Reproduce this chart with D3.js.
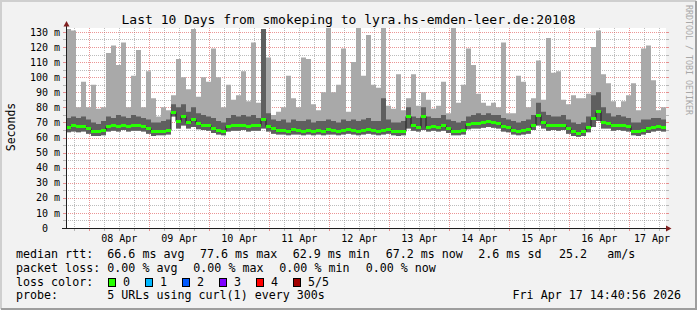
<!DOCTYPE html>
<html>
<head>
<meta charset="utf-8">
<script src="https://cdn.jsdelivr.net/npm/d3@7"></script>
<style>
  html, body { margin: 0; padding: 0; background: #fff; }
  svg text { font-family: "DejaVu Sans Mono", monospace; white-space: pre; }
</style>
</head>
<body>
<svg id="chart" width="697" height="310"></svg>
<script>
// time span of the graph, UTC so the local zone of the browser does not matter
var startTime = Date.UTC(2026, 3, 7, 14, 40, 56);
var endTime = Date.UTC(2026, 3, 17, 14, 40, 56);
var binMs = 2 * 3600 * 1000;   // one value per 2 hours

// median rtt per bin (ms)
var medianRtt = [
  67, 68.3, 67.5, 67.5, 66, 64, 64, 65, 67.5, 68,
  67.5, 68.5, 67.5, 68, 68, 67.5, 66, 64, 64.5, 64.5,
  65, 77, 71, 74, 70, 72.5, 69.5, 68.5, 68, 66.5,
  65, 64.5, 67.5, 68, 68, 68.5, 67.5, 68, 68, 72,
  67.5, 66, 65, 65, 64.5, 65.5, 65, 64.5, 65, 64.5,
  65, 64.5, 65.5, 65, 64.5, 65, 65.5, 65, 64.5, 65,
  65.5, 65, 64.5, 65, 65.5, 64.5, 64, 64.5, 74, 68,
  67, 74.5, 67, 67.5, 67, 68, 66, 64.5, 64.5, 65,
  69, 69.5, 69.5, 70, 71, 70, 69.5, 67.5, 67, 65,
  64.5, 65, 65.5, 68.5, 75, 70, 68, 68.5, 68, 68.5,
  66, 64, 63, 64, 67, 73, 77.5, 70.5, 69.5, 68,
  68.5, 68, 67.5, 64.5, 64, 65, 66, 67, 67.5, 67
];

// inner smoke (2nd / 4th ping) top
var smokeHigh = [
  73, 74, 73, 74, 72, 70, 69, 71, 74, 73,
  75, 74, 73, 75, 74, 73, 72, 70, 70, 71,
  72, 82, 80, 82, 77, 80, 76, 75, 74, 73,
  71, 70, 73, 75, 74, 75, 74, 75, 73, 132,
  76, 72, 71, 72, 70, 72, 71, 71, 72, 70,
  71, 71, 72, 71, 70, 72, 71, 72, 71, 72,
  73, 71, 71, 86, 72, 70, 70, 71, 80, 74,
  73, 80, 74, 73, 73, 75, 72, 71, 70, 71,
  74, 75, 76, 75, 76, 75, 75, 73, 72, 71,
  70, 71, 72, 75, 83, 77, 75, 74, 74, 75,
  72, 70, 69, 70, 74, 88, 90, 80, 76, 74,
  75, 74, 73, 70, 70, 72, 72, 73, 73, 72
];

// lowest ping
var smokeLow = [
  63.5, 64, 63.5, 64, 62.5, 61, 61, 61.5, 64, 64.5,
  64, 65, 64, 64.5, 64.5, 64, 62.5, 61, 61.5, 61.5,
  62, 74, 66, 68, 66, 67, 65.5, 65, 64.5, 63,
  62, 61.5, 64, 64.5, 64.5, 65, 64, 64.5, 64.5, 66,
  64, 62.5, 62, 62, 61.5, 62, 62, 61.5, 62, 61.5,
  62, 61.5, 62, 62, 61.5, 62, 62.5, 62, 61.5, 62,
  62.5, 62, 61.5, 62, 62.5, 61.5, 61, 61.5, 66, 64.5,
  64, 65, 64, 64.5, 64, 64.5, 63, 61.5, 61.5, 62,
  65.5, 66, 66, 66.5, 67, 66.5, 66, 64, 63.5, 62,
  61.5, 62, 62.5, 65, 68, 66, 64.5, 65, 64.5, 65,
  62.5, 61, 60.5, 61, 63.5, 67, 71, 66, 66, 64.5,
  65, 64.5, 64, 61.5, 61, 62, 63, 64, 64.5, 64
];

// highest ping
var smokeMax = [
  132, 131, 80, 97, 80, 95, 79, 80, 116, 121,
  108, 123, 80, 101, 118, 80, 104, 86, 74, 80,
  78, 88, 112, 100, 92, 132, 87, 100, 97, 119,
  100, 80, 95, 85, 88, 104, 84, 123, 83, 132,
  113, 75, 77, 80, 101, 86, 80, 113, 112, 82,
  78, 90, 133, 90, 95, 119, 77, 110, 133, 101,
  128, 95, 93, 133, 81, 79, 102, 78, 86, 102,
  81, 90, 85, 79, 81, 97, 76, 133, 83, 95,
  119, 108, 89, 83, 81, 83, 80, 123, 76, 76,
  101, 97, 80, 86, 111, 85, 126, 103, 104, 85,
  82, 88, 86, 86, 89, 120, 131, 102, 96, 84,
  80, 84, 88, 96, 78, 119, 121, 98, 78, 80
];

var yTicks = [0, 10, 20, 30, 40, 50, 60, 70, 80, 90, 100, 110, 120, 130];
var yMinorTicks = [5, 15, 25, 35, 45, 55, 65, 75, 85, 95, 105, 115, 125];
var dayLabels = ['08 Apr', '09 Apr', '10 Apr', '11 Apr', '12 Apr', '13 Apr', '14 Apr', '15 Apr', '16 Apr', '17 Apr'];

var rttStats = ['66.6 ms avg', '77.6 ms max', '62.9 ms min', '67.2 ms now', '2.6 ms sd', '25.2', 'am/s'];
var lossStats = ['0.00 % avg', '0.00 % max', '0.00 % min', '0.00 % now'];
var lossLabels = ['0', '1', '2', '3', '4', '5/5'];
var lossColors = ['#26ff00', '#00b8ff', '#0059ff', '#7e00ff', '#ff0000', '#a00000'];

var svg = d3.select('#chart');

// frame
svg.append('rect').attr('width', 697).attr('height', 310).attr('fill', '#f2f2f2');
svg.append('path').attr('d', 'M1,309 V1 H696').attr('fill', 'none').attr('stroke', '#cfcfcf').attr('stroke-width', 2);
svg.append('path').attr('d', 'M1,309 H696 V1').attr('fill', 'none').attr('stroke', '#9e9e9e').attr('stroke-width', 2);

var x = d3.scaleUtc().domain([startTime, endTime]).range([66, 666]);
var y = d3.scaleLinear().domain([0, 132.6]).range([228, 28]).clamp(true);

svg.append('rect').attr('x', 66).attr('y', 28).attr('width', 600).attr('height', 200).attr('fill', '#fff');

// grid first, the smoke covers it
var grid = svg.append('g');
var minorColor = 'rgba(143,143,143,0.6)';
var majorColor = 'rgba(222,79,79,0.6)';

var sixHours = d3.utcHour.every(6).range(new Date(startTime), new Date(endTime))
  .filter(d => d.getUTCHours() !== 0);
var midnights = d3.utcDay.range(new Date(startTime), new Date(endTime));

function vLine(d, color) {
  var px = Math.round(x(d)) + 0.5;
  grid.append('line').attr('x1', px).attr('x2', px).attr('y1', 28).attr('y2', 228)
    .attr('stroke', color).attr('stroke-dasharray', '1,1');
  grid.append('line').attr('x1', px).attr('x2', px).attr('y1', 228).attr('y2', 231).attr('stroke', color);
}
function hLine(v, color) {
  var py = Math.round(y(v)) + 0.5;
  grid.append('line').attr('x1', 66).attr('x2', 666).attr('y1', py).attr('y2', py)
    .attr('stroke', color).attr('stroke-dasharray', '1,1');
  grid.append('line').attr('x1', 63).attr('x2', 66).attr('y1', py).attr('y2', py).attr('stroke', color);
  grid.append('line').attr('x1', 666).attr('x2', 669).attr('y1', py).attr('y2', py).attr('stroke', color);
}
sixHours.forEach(d => vLine(d, minorColor));
midnights.forEach(d => vLine(d, majorColor));
yMinorTicks.forEach(v => hLine(v, minorColor));
yTicks.filter(v => v > 0).forEach(v => hLine(v, majorColor));

// one record per bin plus a closing point so the steps reach the end
var bins = medianRtt.map(function (m, i) {
  return { t: startTime + i * binMs, median: m, hi: smokeHigh[i], lo: smokeLow[i], max: smokeMax[i] };
});
bins.push(Object.assign({}, bins[bins.length - 1], { t: endTime }));

var plot = svg.append('g');

var smokeOuter = d3.area().curve(d3.curveStepAfter)
  .x(d => x(d.t)).y0(d => y(d.lo)).y1(d => y(d.max));
var smokeInner = d3.area().curve(d3.curveStepAfter)
  .x(d => x(d.t)).y0(d => y(d.lo)).y1(d => y(d.hi));
var medianLine = d3.line().curve(d3.curveStepAfter)
  .x(d => x(d.t)).y(d => Math.round(y(d.median)) + 0.5);
var medianBand = d3.area().curve(d3.curveStepAfter)
  .x(d => x(d.t)).y0(d => Math.round(y(d.median)) + 2).y1(d => Math.round(y(d.median)) - 1);

plot.append('path').attr('d', smokeOuter(bins)).attr('fill', '#a9a9a9');
plot.append('path').attr('d', smokeInner(bins)).attr('fill', '#5f5f5f');
plot.append('path').attr('d', medianLine(bins)).attr('fill', 'none').attr('stroke', '#202020').attr('stroke-width', 1);
plot.append('path').attr('d', medianBand(bins)).attr('fill', '#26ff00');

// axes with arrows
svg.append('line').attr('x1', 66.5).attr('x2', 66.5).attr('y1', 26).attr('y2', 229).attr('stroke', '#1f1f1f');
svg.append('line').attr('x1', 62).attr('x2', 667).attr('y1', 228.5).attr('y2', 228.5).attr('stroke', '#1f1f1f');
svg.append('path').attr('d', 'M63.5,26.5 L69.5,26.5 L66.5,21 Z').attr('fill', '#801f1f');
svg.append('path').attr('d', 'M666,225.5 L666,231.5 L671.5,228.5 Z').attr('fill', '#801f1f');

// y labels
svg.append('g').selectAll('text').data(yTicks).enter().append('text')
  .attr('x', 60).attr('y', d => y(d) + 3.6)
  .attr('text-anchor', 'end').attr('font-size', '10px').attr('fill', '#000')
  .text(d => d === 0 ? '0  ' : d + ' m');

// x labels at noon, kept inside the axis
svg.append('g').selectAll('text').data(midnights).enter().append('text')
  .attr('x', d => Math.min(x(+d + 12 * 3600 * 1000), 652))
  .attr('y', 242)
  .attr('text-anchor', 'middle').attr('font-size', '10px').attr('fill', '#000')
  .text((d, i) => dayLabels[i]);

// titles
svg.append('text').attr('x', 348.5).attr('y', 24).attr('text-anchor', 'middle')
  .attr('font-size', '13px').attr('fill', '#000')
  .text('Last 10 Days from smokeping to lyra.hs-emden-leer.de:20108');
svg.append('text').attr('transform', 'translate(14.5,127) rotate(-90)').attr('text-anchor', 'middle')
  .attr('font-size', '11.5px').attr('fill', '#000').text('Seconds');
svg.append('text').attr('transform', 'translate(685.5,5) rotate(90)').attr('text-anchor', 'start')
  .attr('font-size', '8.3px').attr('fill', '#a8a8a8').text('RRDTOOL / TOBI OETIKER');

// legend
var legend = svg.append('g').attr('font-size', '11.67px').attr('fill', '#000');
var rowY = [258, 271.7, 285.5, 299.2];
var rttX = [107.3, 200, 292.7, 385.7, 478.3, 559, 607.3];
var lossX = [107.3, 193.3, 279.3, 365.7];

legend.append('text').attr('x', 16).attr('y', rowY[0]).text('median rtt:');
rttStats.forEach((s, i) => legend.append('text').attr('x', rttX[i]).attr('y', rowY[0]).text(s));
legend.append('text').attr('x', 16).attr('y', rowY[1]).text('packet loss:');
lossStats.forEach((s, i) => legend.append('text').attr('x', lossX[i]).attr('y', rowY[1]).text(s));
legend.append('text').attr('x', 16).attr('y', rowY[2]).text('loss color:');
lossLabels.forEach(function (s, i) {
  var bx = 108.5 + i * 37;
  legend.append('rect').attr('x', bx).attr('y', 278.5).attr('width', 7).attr('height', 8)
    .attr('fill', lossColors[i]).attr('stroke', '#000');
  legend.append('text').attr('x', bx + 14.5).attr('y', rowY[2]).text(s);
});
legend.append('text').attr('x', 16).attr('y', rowY[3]).text('probe:');
legend.append('text').attr('x', 107.3).attr('y', rowY[3]).text('5 URLs using curl(1) every 300s');
legend.append('text').attr('x', 681).attr('y', rowY[3]).attr('text-anchor', 'end').text('Fri Apr 17 14:40:56 2026');
</script>
</body>
</html>
